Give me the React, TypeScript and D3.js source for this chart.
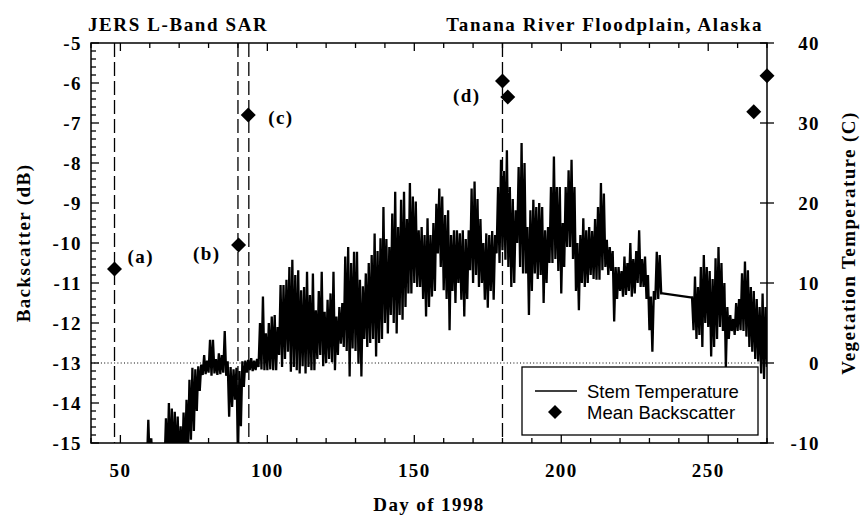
import React from "react";
import * as d3 from "d3";

// ---- data ----
const startDay = 58;
// daily minimum stem temperature (C); null = no data
const tMin: (number | null)[] = [
  -13, -13, -13, -13, -13, -13, -13, -13, -13, -13, -13, -13, // 58-69
  -13, -13, -12, -11, -9.6, -8.5, -6, -3.5, -1.5, -1.4, -1.2, -1.6, // 70-81
  -1.3, -1.5, -1.4, -1.2, -1.6, -6.7, -5.5, -4.6, -12, -7.9, -3.0, -1.2, // 82-93
  -0.9, -1.0, -0.9, -0.5, -0.8, -0.9, -0.9, -0.8, -0.9, -0.9, 1.0, -0.5, // 94-105
  0.5, 1.4, -1.1, -0.5, -0.9, -1.3, -0.4, -1.3, -0.5, -0.9, -0.9, 0.5, // 106-117
  1.0, -0.4, 0.0, 0.5, 0.1, -0.9, 1.0, 2.4, 2.0, 1.5, -1.7, 1.8, // 118-129
  1.5, -0.1, -1.7, 3.0, 2.0, 2.5, 3.0, 0.8, 2.5, 3.0, 5.0, 3.7, // 130-141
  6.0, 5.0, 3.7, 6.0, 5.4, 7.0, 8.7, 8.7, 10.0, 9.5, 9.5, 8.0, // 142-153
  5.8, 7.0, 8.3, 9.0, 13.7, 12.0, 9.1, 8.0, 4.1, 9.0, 7.5, 10.0, // 154-165
  7.9, 5.8, 8.0, 11.6, 10.0, 11.0, 9.5, 10.0, 7.9, 6.9, 9.0, 7.9, // 166-177
  13.7, 12.5, 14.1, 12.9, 12.0, 9.5, 10.0, 15.0, 12.0, 11.2, 11.2, 6.0, // 178-189
  9.0, 11.2, 10.5, 11.0, 7.5, 10.0, 12.5, 12.5, 13.0, 11.5, 8.7, 12.0, // 190-201
  14.5, 14.5, 13.0, 9.0, 6.6, 10.0, 9.5, 10.0, 11.0, 10.5, 10.4, 10.4, // 202-213
  11.6, 12.0, 11.0, 11.5, 5.2, 8.0, 9.0, 8.3, 8.5, 9.0, 8.3, 8.7, // 214-225
  10.0, 9.5, 9.5, 8.0, 4.1, 1.4, 7.9, 8.0, 8.7, null, null, null, // 226-237
  null, null, null, null, null, null, 8.2, 4.1, 3.0, 3.5, 2.0, 5.0, // 238-249
  4.5, 0.8, 2.0, 3.0, 4.5, 4.0, -0.5, 3.0, 4.0, 3.5, 4.0, 4.1, // 250-261
  4.0, 3.3, 2.0, 1.4, 0.5, 0.2, -1.3, -2.0, -0.5, // 262-270
];
// daily maximum stem temperature (C)
const tMax: (number | null)[] = [
  -12, -7.1, -9.4, -11, -11, -11, -11, -6.9, -5.0, -5.7, -6.1, -6.7, // 58-69
  -7.9, -6.2, -4.6, -2.1, -0.6, -0.8, -0.4, -0.2, 1.0, 0.3, 2.9, 2.9, // 70-81
  0.5, 1.2, 1.0, 4.0, 0.2, -0.5, -0.8, -0.6, -1.0, 0.2, 0.3, 0.4, // 82-93
  0.6, 0.3, 0.5, 5.0, 8.3, 3.7, 5.0, 5.8, 6.0, 4.5, 9.75, 9.75, // 94-105
  10.4, 12.0, 12.9, 11.0, 11.6, 9.1, 9.5, 11.4, 8.5, 11.2, 6.6, 9.0, // 106-117
  11.4, 6.4, 7.9, 8.7, 11.4, 5.8, 7.0, 7.5, 13.3, 14.5, 12.5, 13.9, // 118-129
  13.9, 10.4, 9.6, 11.2, 12.5, 13.5, 16.2, 14.0, 15.6, 19.5, 15.5, 14.5, // 130-141
  18.7, 21.4, 17.0, 20.4, 21.4, 18.0, 22.5, 20.8, 20.2, 16.6, 17.0, 16.0, // 142-153
  18.1, 16.0, 17.5, 19.9, 21.8, 20.8, 18.5, 19.1, 16.0, 16.6, 16.6, 16.2, // 154-165
  16.6, 15.5, 16.6, 21.8, 22.7, 20.5, 18.0, 15.0, 16.2, 16.0, 16.5, 16.0, // 166-177
  22.0, 25.4, 24.0, 26.6, 22.0, 20.5, 19.1, 24.5, 27.5, 25.0, 17.0, 19.1, // 178-189
  20.4, 19.5, 20.0, 19.5, 16.6, 17.0, 22.0, 25.8, 22.0, 22.0, 17.5, 22.0, // 190-201
  24.1, 25.4, 22.0, 15.0, 16.0, 18.1, 16.6, 17.0, 16.5, 18.0, 19.5, 22.5, // 202-213
  21.2, 15.4, 14.5, 14.0, 12.0, 12.0, 11.5, 13.3, 12.5, 15.0, 13.0, 14.0, // 214-225
  16.6, 13.0, 13.3, 11.0, 8.3, 9.0, 13.9, 13.5, 8.7, null, null, null, // 226-237
  null, null, null, null, null, null, 8.2, 10.8, 9.5, 12.0, 13.5, 12.0, // 238-249
  11.5, 10.5, 13.1, 14.5, 12.5, 10.0, 7.0, 6.0, 5.5, 7.5, 8.0, 11.2, // 250-261
  12.7, 11.6, 9.5, 9.0, 8.0, 7.0, 8.7, 7.0, 4.5, // 262-270
];

const bsDays = [48, 90.2, 93.5, 180, 181.8, 265.5, 270];
const bsValues = [-10.65, -10.05, -6.8, -5.95, -6.35, -6.72, -5.82];

const eventDays = [48, 90, 93.7, 180];
const eventLabels = ["(a)", "(b)", "(c)", "(d)"];

const xTicks = [50, 100, 150, 200, 250];
const yLeftTicks = [-15, -14, -13, -12, -11, -10, -9, -8, -7, -6, -5];
const yRightTicks = [-10, 0, 10, 20, 30, 40];

// ---- layout ----
const W = 863;
const H = 519;
const L = 91;
const R = 767;
const T = 43;
const B = 443;

const serif = "'Liberation Serif', 'Times New Roman', serif";
const sans = "'Liberation Sans', Arial, sans-serif";

export default function App() {
  const x = d3.scaleLinear().domain([40, 270]).range([L, R]);
  const yL = d3.scaleLinear().domain([-15, -5]).range([B, T]);
  const yR = d3.scaleLinear().domain([-10, 40]).range([B, T]);

  const pts: [number, number][] = [];
  tMin.forEach((mn, i) => {
    const mx = tMax[i];
    if (mn == null || mx == null) return;
    const d = startDay + i;
    pts.push([d, mn]);
    pts.push([d + 0.5, mx]);
  });
  const line = d3
    .line<[number, number]>()
    .x((p) => x(p[0]))
    .y((p) => yR(p[1]));

  const minorX = d3.range(40, 271, 10);
  const minorYL = d3.range(-15, -4.99, 0.2);

  const diamond = (cx: number, cy: number, r = 7.5) =>
    `M${cx},${cy - r}L${cx + r},${cy}L${cx},${cy + r}L${cx - r},${cy}Z`;

  const labelOffsets = [
    { dx: 13, dy: -6, anchor: "start" },
    { dx: -18, dy: 15, anchor: "end" },
    { dx: 20, dy: 9, anchor: "start" },
    { dx: -22, dy: 21, anchor: "end" },
  ];

  const serifText = { fontFamily: serif, fontWeight: 700, fontSize: 19, letterSpacing: 1.4 };

  return (
    <svg
      width={W}
      height={H}
      style={{ position: "absolute", left: 0, top: 0, background: "#fff" }}
    >
      <defs>
        <clipPath id="plot">
          <rect x={L} y={T} width={R - L} height={B - T} />
        </clipPath>
      </defs>
      <rect x={0} y={0} width={W} height={H} fill="#fff" />

      {/* zero line */}
      <line
        x1={L}
        x2={R}
        y1={yR(0)}
        y2={yR(0)}
        stroke="#000"
        strokeWidth={1}
        strokeDasharray="1,2.3"
      />

      {/* event dashed lines */}
      {eventDays.map((d, i) => (
        <line
          key={"ev" + i}
          x1={x(d)}
          x2={x(d)}
          y1={T}
          y2={B}
          stroke="#000"
          strokeWidth={1.3}
          strokeDasharray="14,5"
        />
      ))}

      {/* temperature */}
      <g clipPath="url(#plot)">
        <path
          d={line(pts) || ""}
          fill="none"
          stroke="#000"
          strokeWidth={2.3}
          strokeLinejoin="miter"
          strokeMiterlimit={1.5}
        />
      </g>

      {/* backscatter diamonds */}
      {bsDays.map((d, i) => (
        <path key={"bs" + i} d={diamond(x(d), yL(bsValues[i]))} fill="#000" />
      ))}

      {/* event labels */}
      {eventLabels.map((lab, i) => (
        <text
          key={"lab" + i}
          x={x(bsDays[i]) + labelOffsets[i].dx}
          y={yL(bsValues[i]) + labelOffsets[i].dy}
          textAnchor={labelOffsets[i].anchor as any}
          {...serifText}
        >
          {lab}
        </text>
      ))}

      {/* frame */}
      <rect x={L} y={T} width={R - L} height={B - T} fill="none" stroke="#000" strokeWidth={1.5} />

      {/* x ticks */}
      {minorX.map((d) => (
        <g key={"xt" + d}>
          <line x1={x(d)} x2={x(d)} y1={B} y2={B - (d % 50 === 0 ? 8 : 5)} stroke="#000" strokeWidth={1.3} />
          <line x1={x(d)} x2={x(d)} y1={T} y2={T + (d % 50 === 0 ? 8 : 5)} stroke="#000" strokeWidth={1.3} />
        </g>
      ))}
      {xTicks.map((d) => (
        <text key={"xl" + d} x={x(d)} y={477} textAnchor="middle" {...serifText}>
          {d}
        </text>
      ))}

      {/* left ticks */}
      {minorYL.map((v, i) => (
        <line
          key={"ylm" + i}
          x1={L}
          x2={L + (i % 5 === 0 ? 8 : 5)}
          y1={yL(v)}
          y2={yL(v)}
          stroke="#000"
          strokeWidth={1.3}
        />
      ))}
      {yLeftTicks.map((v) => (
        <text key={"yl" + v} x={82} y={yL(v) + 6.5} textAnchor="end" {...serifText}>
          {v}
        </text>
      ))}

      {/* right ticks */}
      {yRightTicks.map((v) => (
        <line key={"yrt" + v} x1={R - 7} x2={R + 7} y1={yR(v)} y2={yR(v)} stroke="#000" strokeWidth={1.3} />
      ))}
      {yRightTicks.map((v) => (
        <text key={"yr" + v} x={820} y={yR(v) + 6.5} textAnchor="end" {...serifText}>
          {v}
        </text>
      ))}

      {/* titles */}
      <text x={88} y={31} {...serifText} letterSpacing={1.6}>
        JERS L-Band SAR
      </text>
      <text x={763} y={31} textAnchor="end" {...serifText} letterSpacing={1.6}>
        Tanana River Floodplain, Alaska
      </text>
      <text x={(L + R) / 2} y={511} textAnchor="middle" {...serifText}>
        Day of 1998
      </text>
      <text
        transform={`translate(30,${(T + B) / 2}) rotate(-90)`}
        textAnchor="middle"
        {...serifText}
      >
        Backscatter (dB)
      </text>
      <text
        transform={`translate(855,${(T + B) / 2}) rotate(-90)`}
        textAnchor="middle"
        {...serifText}
      >
        Vegetation Temperature (C)
      </text>

      {/* legend */}
      <rect x={522} y={367} width={236} height={68} fill="#fff" stroke="#000" strokeWidth={1.3} />
      <line x1={535} x2={577} y1={391} y2={391} stroke="#000" strokeWidth={1.3} />
      <path d={diamond(555, 412, 7)} fill="#000" />
      <text x={587} y={398} fontFamily={sans} fontSize={18.5}>
        Stem Temperature
      </text>
      <text x={587} y={419} fontFamily={sans} fontSize={18.5}>
        Mean Backscatter
      </text>
    </svg>
  );
}
